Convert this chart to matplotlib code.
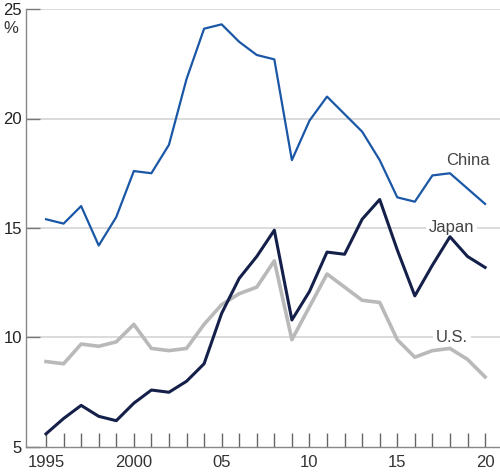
import matplotlib
matplotlib.use('Agg')
import matplotlib.pyplot as plt

years = list(range(1995, 2021))
china = [15.4, 15.2, 16.0, 14.2, 15.5, 17.6, 17.5, 18.8, 21.8, 24.1, 24.3, 23.5, 22.9,
         22.7, 18.1, 19.9, 21.0, 20.2, 19.4, 18.1, 16.4, 16.2, 17.4, 17.5, 16.8, 16.1]
japan = [5.6, 6.3, 6.9, 6.4, 6.2, 7.0, 7.6, 7.5, 8.0, 8.8, 11.1, 12.7, 13.7,
         14.9, 10.8, 12.1, 13.9, 13.8, 15.4, 16.3, 14.0, 11.9, 13.3, 14.6, 13.7, 13.2]
us = [8.9, 8.8, 9.7, 9.6, 9.8, 10.6, 9.5, 9.4, 9.5, 10.6, 11.5, 12.0, 12.3,
      13.5, 9.9, 11.4, 12.9, 12.3, 11.7, 11.6, 9.9, 9.1, 9.4, 9.5, 9.0, 8.2]
xticks = [1995, 2000, 2005, 2010, 2015, 2020]
xlabels = ['1995', '2000', '05', '10', '15', '20']
yticks = [5, 10, 15, 20, 25]

plt.rcParams['font.family'] = ['Liberation Sans', 'DejaVu Sans']

fig = plt.figure(figsize=(5, 4.74), dpi=100)
ax = fig.add_axes([0.052, 0.057, 0.948, 0.924])

for y in yticks[1:]:
    ax.axhline(y, color='#d4d4d4', lw=1.2, zorder=1)

ax.plot(years, us, color='#b9b9b9', lw=2.6, zorder=3)
ax.plot(years, japan, color='#14204a', lw=2.2, zorder=4)
ax.plot(years, china, color='#1a57a6', lw=1.6, zorder=5)

ax.set_xlim(1993.86, 2020.85)
ax.set_ylim(5, 25)

ax.set_xticks(years)
ax.set_xticklabels([xlabels[xticks.index(y)] if y in xticks else '' for y in years])
ax.set_yticks(yticks)
ax.set_yticklabels([str(v) for v in yticks])
ax.tick_params(axis='x', direction='in', length=10, width=1, color='#666666',
               labelsize=12, labelcolor='#333333', pad=6)
ax.tick_params(axis='y', direction='in', length=10, width=1, color='#777777',
               labelsize=12, labelcolor='#222222', pad=3)

for s in ['top', 'right']:
    ax.spines[s].set_visible(False)
for s in ['left', 'bottom']:
    ax.spines[s].set_color('#888888')
    ax.spines[s].set_linewidth(1)

ax.text(-0.032, 0.955, '%', transform=ax.transAxes, ha='center', va='center',
        fontsize=12, color='#333333')

bbox = dict(facecolor='white', edgecolor='none', pad=2)
ax.text(2019.0, 18.1, 'China', ha='center', va='center', fontsize=12, color='#444444')
ax.text(2018.1, 15.0, 'Japan', ha='center', va='center', fontsize=12, color='#444444',
        bbox=bbox, zorder=2)
ax.text(2018.1, 10.0, 'U.S.', ha='center', va='center', fontsize=12, color='#444444',
        bbox=bbox, zorder=2)

fig.savefig('out.png', dpi=100)
